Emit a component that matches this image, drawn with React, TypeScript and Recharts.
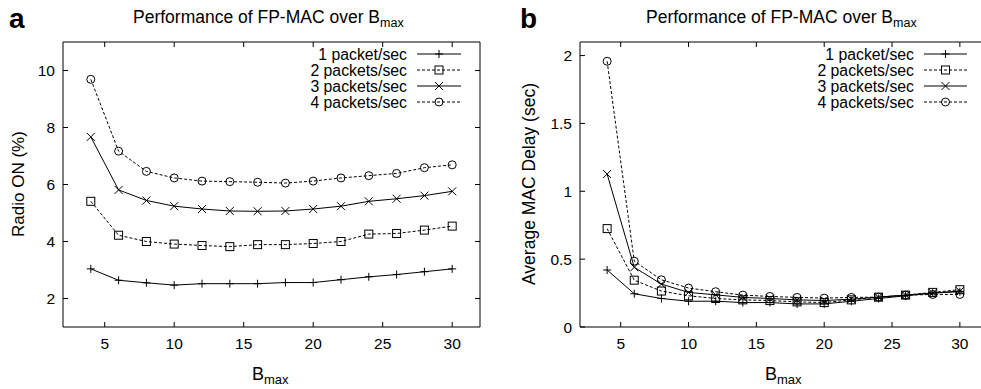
import React from 'react';
import { LineChart, Line, XAxis, YAxis, ReferenceArea } from 'recharts';

// B_max values (x axis)
const bMax = [4, 6, 8, 10, 12, 14, 16, 18, 20, 22, 24, 26, 28, 30];

// panel a: Radio ON (%)
const radioOn1 = [3.04, 2.64, 2.55, 2.47, 2.52, 2.52, 2.52, 2.56, 2.56, 2.66, 2.76, 2.84, 2.94, 3.04];
const radioOn2 = [5.41, 4.22, 4.0, 3.91, 3.86, 3.82, 3.89, 3.89, 3.93, 4.0, 4.26, 4.28, 4.4, 4.54];
const radioOn3 = [7.67, 5.81, 5.44, 5.24, 5.14, 5.07, 5.06, 5.07, 5.14, 5.24, 5.41, 5.5, 5.61, 5.76];
const radioOn4 = [9.69, 7.17, 6.46, 6.23, 6.12, 6.1, 6.08, 6.05, 6.12, 6.23, 6.31, 6.39, 6.59, 6.69];

// panel b: Average MAC delay (sec)
const delay1 = [0.42, 0.245, 0.21, 0.19, 0.19, 0.18, 0.18, 0.17, 0.17, 0.19, 0.21, 0.23, 0.25, 0.26];
const delay2 = [0.725, 0.345, 0.265, 0.23, 0.21, 0.2, 0.195, 0.185, 0.18, 0.2, 0.22, 0.235, 0.255, 0.275];
const delay3 = [1.127, 0.44, 0.316, 0.255, 0.237, 0.218, 0.21, 0.2, 0.195, 0.205, 0.22, 0.235, 0.25, 0.265];
const delay4 = [1.958, 0.485, 0.348, 0.287, 0.26, 0.235, 0.225, 0.218, 0.213, 0.218, 0.22, 0.235, 0.24, 0.24];

const seriesNames = ['1 packet/sec', '2 packets/sec', '3 packets/sec', '4 packets/sec'];
const markerKinds = ['plus', 'square', 'cross', 'circle'];
const dashed = [false, true, false, true];

const xTicks = [5, 10, 15, 20, 25, 30];
const radioTicks = [2, 4, 6, 8, 10];
const delayTicks = [0, 0.5, 1, 1.5, 2];

const radioData = bMax.map((b, i) => ({ b, s1: radioOn1[i], s2: radioOn2[i], s3: radioOn3[i], s4: radioOn4[i] }));
const delayData = bMax.map((b, i) => ({ b, s1: delay1[i], s2: delay2[i], s3: delay3[i], s4: delay4[i] }));

const FONT = '"Liberation Sans", Arial, Helvetica, sans-serif';
const PLOT_TOP = 42;
const PLOT_BOTTOM = 327;
const TICK = 5;

function Marker({ cx, cy, kind }: { cx: number; cy: number; kind: string }) {
  const s = 4;
  const common = { stroke: '#000', strokeWidth: 1, fill: 'none' };
  if (kind === 'plus') {
    return (
      <g>
        <line x1={cx - s} x2={cx + s} y1={cy} y2={cy} {...common} />
        <line x1={cx} x2={cx} y1={cy - s} y2={cy + s} {...common} />
      </g>
    );
  }
  if (kind === 'cross') {
    return (
      <g>
        <line x1={cx - s} x2={cx + s} y1={cy - s} y2={cy + s} {...common} />
        <line x1={cx - s} x2={cx + s} y1={cy + s} y2={cy - s} {...common} />
      </g>
    );
  }
  if (kind === 'square') {
    return <rect x={cx - s} y={cy - s} width={2 * s} height={2 * s} {...common} />;
  }
  return <circle cx={cx} cy={cy} r={s} {...common} />;
}

const dotFor = (kind: string) => (p: any) =>
  <Marker key={`${kind}-${p.index}`} cx={p.cx} cy={p.cy} kind={kind} />;

// gnuplot-like ticks: inward on both sides of the box
const makeXTick = () => (p: any) => (
  <g>
    <line x1={p.x} x2={p.x} y1={PLOT_BOTTOM} y2={PLOT_BOTTOM - TICK} stroke="#000" />
    <line x1={p.x} x2={p.x} y1={PLOT_TOP} y2={PLOT_TOP + TICK} stroke="#000" />
    <text x={p.x} y={349} textAnchor="middle" fontSize={15.5} fontFamily={FONT} fill="#000">
      {p.payload.value}
    </text>
  </g>
);

const makeYTick = (left: number, right: number) => (p: any) => (
  <g>
    <line x1={left} x2={left + TICK} y1={p.y} y2={p.y} stroke="#000" />
    <line x1={right} x2={right - TICK} y1={p.y} y2={p.y} stroke="#000" />
    <text x={left - 8} y={p.y + 5.5} textAnchor="end" fontSize={15.5} fontFamily={FONT} fill="#000">
      {p.payload.value}
    </text>
  </g>
);

function Panel({ data, yDomain, yTicks, yWidth, width }: any) {
  const left = yWidth;
  const right = width - 10;
  return (
    <LineChart width={width} height={389} data={data} margin={{ top: PLOT_TOP, right: 10, left: 0, bottom: 0 }}>
      <XAxis
        dataKey="b"
        type="number"
        domain={[2, 32]}
        ticks={xTicks}
        height={389 - PLOT_BOTTOM - PLOT_TOP + PLOT_TOP}
        axisLine={false}
        tickLine={false}
        tick={makeXTick()}
        allowDataOverflow
      />
      <YAxis
        type="number"
        domain={yDomain}
        ticks={yTicks}
        width={yWidth}
        axisLine={false}
        tickLine={false}
        tick={makeYTick(left, right)}
        allowDataOverflow
      />
      <ReferenceArea x1={2} x2={32} y1={yDomain[0]} y2={yDomain[1]} fill="none" stroke="#000" strokeWidth={1} />
      {['s1', 's2', 's3', 's4'].map((k, i) => (
        <Line
          key={k}
          dataKey={k}
          type="linear"
          stroke="#000"
          strokeWidth={1}
          strokeDasharray={dashed[i] ? '3 2' : undefined}
          dot={dotFor(markerKinds[i])}
          activeDot={false}
          isAnimationActive={false}
        />
      ))}
    </LineChart>
  );
}

function LegendBlock({ textRight, lineLeft, lineRight }: { textRight: number; lineLeft: number; lineRight: number }) {
  const mid = (lineLeft + lineRight) / 2;
  return (
    <g>
      {seriesNames.map((name, i) => {
        const cy = 54 + i * 16;
        return (
          <g key={name}>
            <text x={textRight} y={cy + 5.5} textAnchor="end" fontSize={15.8} fontFamily={FONT} fill="#000">
              {name}
            </text>
            <line
              x1={lineLeft}
              x2={lineRight}
              y1={cy}
              y2={cy}
              stroke="#000"
              strokeWidth={1}
              strokeDasharray={dashed[i] ? '3 2' : undefined}
            />
            <Marker cx={mid} cy={cy} kind={markerKinds[i]} />
          </g>
        );
      })}
    </g>
  );
}

function Title({ x, text }: { x: number; text: string }) {
  return (
    <text x={x} y={23} fontSize={17.5} fontFamily={FONT} fill="#000">
      {text}
      <tspan fontSize={12.5} dy={4}>max</tspan>
    </text>
  );
}

function XLabel({ x }: { x: number }) {
  return (
    <text x={x} y={380} fontSize={18} fontFamily={FONT} fill="#000">
      B<tspan fontSize={13} dy={4}>max</tspan>
    </text>
  );
}

export default function App() {
  return (
    <div
      style={{
        position: 'absolute',
        left: 0,
        top: 0,
        width: 981,
        height: 389,
        overflow: 'hidden',
        background: '#fff',
        fontFamily: FONT,
      }}
    >
      <div style={{ position: 'absolute', left: 0, top: 0 }}>
        <Panel data={radioData} yDomain={[1, 11]} yTicks={radioTicks} yWidth={63} width={490} />
      </div>
      <div style={{ position: 'absolute', left: 490, top: 0 }}>
        <Panel data={delayData} yDomain={[0, 2.1]} yTicks={delayTicks} yWidth={90} width={507} />
      </div>
      <svg width={981} height={389} style={{ position: 'absolute', left: 0, top: 0, pointerEvents: 'none' }}>
        <text x={9} y={28} fontSize={28} fontWeight="bold" fontFamily={FONT} fill="#000">a</text>
        <text x={520} y={28} fontSize={28} fontWeight="bold" fontFamily={FONT} fill="#000">b</text>
        <Title x={133} text="Performance of FP-MAC over B" />
        <Title x={646} text="Performance of FP-MAC over B" />
        <XLabel x={252} />
        <XLabel x={765} />
        <text transform="translate(24,184) rotate(-90)" textAnchor="middle" fontSize={17} fontFamily={FONT} fill="#000">
          Radio ON (%)
        </text>
        <text transform="translate(535,184) rotate(-90)" textAnchor="middle" fontSize={17.5} fontFamily={FONT} fill="#000">
          Average MAC Delay (sec)
        </text>
        <LegendBlock textRight={407} lineLeft={417} lineRight={461} />
        <LegendBlock textRight={914} lineLeft={924} lineRight={967} />
      </svg>
    </div>
  );
}
